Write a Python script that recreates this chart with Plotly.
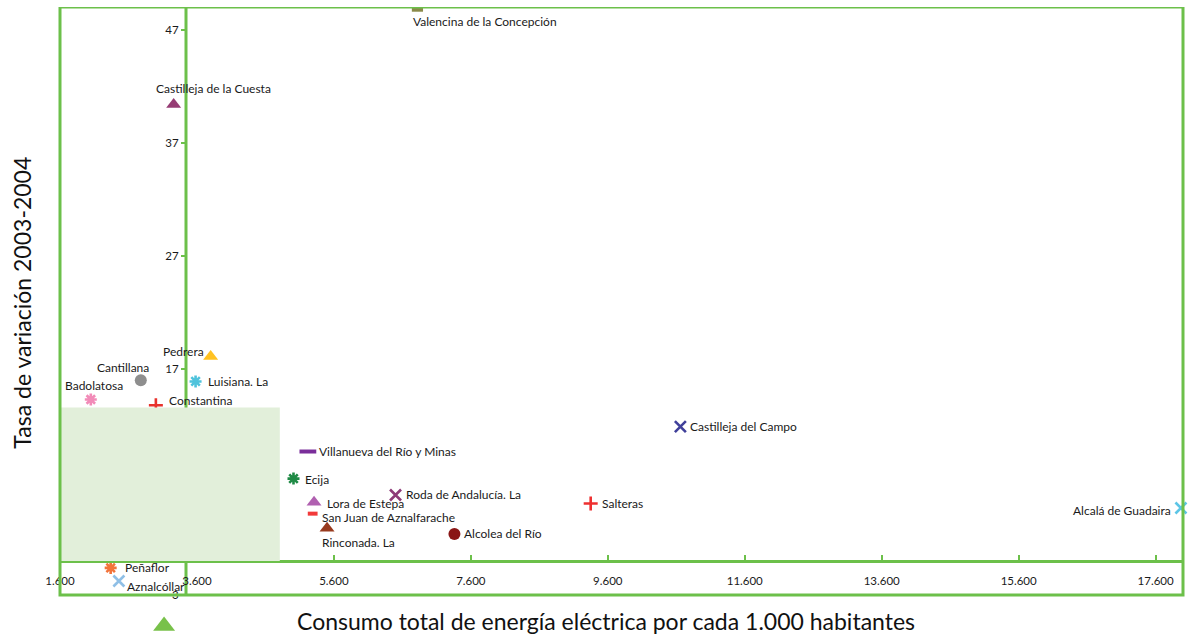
import plotly.graph_objects as go

# ---------------- data ----------------
municipios = [
    "Valencina de la Concepción", "Castilleja de la Cuesta", "Pedrera", "Cantillana",
    "Luisiana. La", "Badolatosa", "Constantina", "Castilleja del Campo",
    "Villanueva del Río y Minas", "Ecija", "Lora de Estepa", "Roda de Andalucía. La",
    "San Juan de Aznalfarache", "Rinconada. La", "Alcolea del Río", "Salteras",
    "Alcalá de Guadaira", "Peñaflor", "Aznalcóllar", "",
]
consumo = [6820, 3260, 3800, 2780, 3580, 2050, 3000, 10660, 5220, 5010, 5310, 6500,
           5290, 5500, 7360, 9350, 17970, 2340, 2460, 3120]
tasa = [48.8, 40.4, 18.1, 16.0, 15.9, 14.3, 13.8, 11.9, 9.7, 7.3, 5.2, 5.85,
        4.2, 2.9, 2.4, 5.1, 4.7, -0.6, -1.76, -5.74]

x_tickvals = [1600, 3600, 5600, 7600, 9600, 11600, 13600, 15600, 17600]
x_ticktext = ["1.600", "3.600", "5.600", "7.600", "9.600", "11.600", "13.600", "15.600", "17.600"]
y_tickvals = [-3, 7, 17, 27, 37, 47]
y_ticktext = ["-3", "7", "17", "27", "37", "47"]

x_title = "Consumo total de energía eléctrica por cada 1.000 habitantes"
y_title = "Tasa de variación 2003-2004"

# ---------------- styles ----------------
colors = ["#8a8a4a", "#963c74", "#ffc222", "#8e8e8e", "#4fc3dc", "#f28bb8", "#e8322c",
          "#40409a", "#7a2e9a", "#1f8a45", "#b060b0", "#8e3a78", "#f23a3a", "#983a1e",
          "#8a1616", "#ee3030", "#5cc5e6", "#f2733a", "#8fbfe6", "#78c14a"]
symbols = ["line-ew", "triangle-up", "triangle-up", "circle", "asterisk-open", "asterisk-open",
           "cross-thin-open", "x-thin-open", "line-ew", "asterisk-open", "triangle-up",
           "x-thin-open", "line-ew", "triangle-up", "circle", "cross-thin-open",
           "x-thin-open", "asterisk-open", "x-thin-open", "triangle-up"]
sizes = [8, 13, 13, 12, 10, 10, 10, 11, 12, 10, 13, 11, 7, 13, 12, 10, 11, 10, 11, 19]
line_widths = [4, 0, 0, 0, 2.6, 2.6, 2.6, 2.6, 4, 2.6, 0, 2.6, 4, 0, 0, 2.6, 2.6, 2.6, 2.6, 0]

# label placement: (xanchor, xshift, yshift)
label_pos = [
    ("left", -6, -12), ("left", -20, 16), ("right", -5, 5), ("right", 10, 13),
    ("left", 10, 0), ("center", 3, 14), ("left", 11, 5), ("left", 8, 0),
    ("left", 9, 0), ("left", 9, -1), ("left", 11, -1), ("left", 8, 1),
    ("left", 7, -4), ("left", -7, -14), ("left", 8, 0), ("left", 9, 0),
    ("right", -8, -2), ("left", 12, 0), ("left", 6, -6), ("left", 0, 0),
]

GREEN = "#6cc04a"
FONT = "Lato, 'Open Sans', sans-serif"

PX_PER_UNIT = 11.3          # vertical scale of the original chart
frame_bottom = -3           # bottom of the drawn frame
x_range = [1600, 18000]
y_top = 49.04
y_range = [frame_bottom - 41 / PX_PER_UNIT, y_top]   # extend below frame to show the out-of-frame marker
y_axis_cross_x = 3440       # where the vertical axis line sits (data units)
shade = dict(x0=1600, x1=4810, y0=0, y1=13.6)

fig = go.Figure()
fig.add_trace(go.Scatter(
    x=consumo, y=tasa, mode="markers", cliponaxis=False, hoverinfo="text",
    text=municipios, showlegend=False,
    marker=dict(symbol=symbols, color=colors, size=sizes, opacity=1,
                line=dict(color=colors, width=line_widths)),
))

annotations = []
for name, xv, yv, (anc, xs, ys) in zip(municipios, consumo, tasa, label_pos):
    if not name:
        continue
    annotations.append(dict(
        x=xv, y=yv, xref="x", yref="y", text=name, showarrow=False,
        xanchor=anc, yanchor="middle", xshift=xs, yshift=ys,
        font=dict(family=FONT, size=12, color="#1a1a1a"),
    ))

annotations.append(dict(
    x=0.5, y=0.0, xref="paper", yref="paper", xshift=-16, yshift=15, text=x_title,
    showarrow=False, xanchor="center", yanchor="middle",
    font=dict(family=FONT, size=23, color="#111"),
))
annotations.append(dict(
    x=0, y=0.53, xref="paper", yref="paper", xshift=-38, text=y_title, showarrow=False,
    textangle=-90, xanchor="center", yanchor="middle",
    font=dict(family=FONT, size=23, color="#111"),
))

x_pos_frac = (0 - y_range[0]) / (y_range[1] - y_range[0])

fig.update_layout(
    width=1193, height=636,
    margin=dict(l=60, r=10, t=7, b=0),
    paper_bgcolor="white", plot_bgcolor="white",
    font=dict(family=FONT, size=11, color="#1a1a1a"),
    xaxis=dict(
        range=x_range, showgrid=False, zeroline=False,
        tickmode="array", tickvals=x_tickvals, ticktext=x_ticktext,
        ticks="inside", ticklen=5, tickwidth=2, tickcolor=GREEN,
        showline=True, linecolor=GREEN, linewidth=3,
        anchor="free", position=x_pos_frac, ticklabelstandoff=8,
        tickfont=dict(family=FONT, size=11.5, color="#1a1a1a"),
    ),
    yaxis=dict(
        range=y_range, showgrid=False, zeroline=False,
        tickmode="array", tickvals=y_tickvals, ticktext=y_ticktext,
        ticks="outside", ticklen=5, tickwidth=2, tickcolor=GREEN,
        showline=False, anchor="free",
        position=(y_axis_cross_x - x_range[0]) / (x_range[1] - x_range[0]),
        tickfont=dict(family=FONT, size=11.5, color="#1a1a1a"),
    ),
    shapes=[
        # vertical axis line
        dict(type="line", xref="x", yref="y", x0=y_axis_cross_x, x1=y_axis_cross_x,
             y0=frame_bottom, y1=y_top, line=dict(color=GREEN, width=3), layer="below"),
        dict(type="rect", xref="x", yref="y", layer="above",
             fillcolor="#e2efda", line=dict(width=0), **shade),
        # outer frame
        dict(type="rect", xref="paper", yref="y", x0=0, x1=1, y0=frame_bottom, y1=y_top,
             line=dict(color=GREEN, width=3), layer="above"),
    ],
    annotations=annotations,
)

fig.write_html("out.html", config={"displayModeBar": False},
               post_script="document.body.style.margin='0px';")
